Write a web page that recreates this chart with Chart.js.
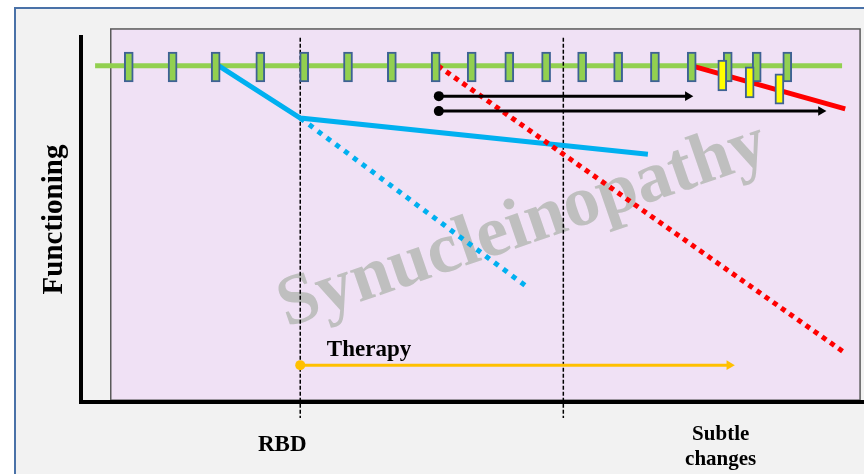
<!DOCTYPE html>
<html>

<head>
  <title>Synucleinopathy</title>
  <script src="https://cdn.jsdelivr.net/npm/chart.js"></script>
  <style>
    body { margin: 0; background: #fff; }
  </style>
</head>

<body>
  <canvas id="myChart" width="864" height="474"></canvas>
  <script>

    // time runs 0-100 left to right, functioning 0-100 bottom to top
    let baselineX = [1.8, 97.2];
    let baselineY = [92.1, 92.1];

    let visitX = [6.1, 11.7, 17.2, 22.9, 28.5, 34.1, 39.7, 45.3, 49.9, 54.7, 59.4, 64.0, 68.6, 73.3, 78.0, 82.6, 86.3, 90.2];
    let visitRange = [87.7, 95.9];

    let abnormalX = [81.9, 85.4, 89.2];
    let abnormalLow = [85.2, 83.3, 81.6];
    let abnormalHigh = [93.7, 91.8, 89.9];

    let declineX = [78.0, 97.6];
    let declineY = [92.1, 80.3];

    let untreatedX = [45.6, 97.4];
    let untreatedY = [92.1, 13.7];

    let treatedX = [17.6, 28.0, 72.4];
    let treatedY = [92.1, 77.8, 67.9];

    let projectedX = [28.0, 57.0];
    let projectedY = [77.8, 31.5];

    let followUpStart = [45.7, 45.7];
    let followUpEnd = [77.5, 94.5];
    let followUpY = [83.8, 79.7];

    let therapyX = [28.0, 82.8];
    let therapyY = 10.1;

    let eventX = [28.0, 61.6];
    let eventSpan = [99.8, -4.4];

    let tickValues = [25.7, 81.7];
    let tickLabels = [['RBD'], ['Subtle', 'changes']];

    const serif = "'Liberation Serif', 'Times New Roman', serif";

    function pts(xs, ys) {
      return xs.map((x, i) => ({ x: x, y: ys[i] }));
    }

    function line(data, color, width, extra) {
      return Object.assign({
        type: 'line',
        data: data,
        borderColor: color,
        backgroundColor: color,
        borderWidth: width,
        pointRadius: 0,
        fill: false,
        tension: 0
      }, extra || {});
    }

    function arrow(xs, y, color, width, order) {
      return line(pts(xs, [y, y]), color, width, {
        order: order,
        pointRadius: [5, 5.5],
        pointStyle: ['circle', 'triangle'],
        pointRotation: [0, 90],
        pointBackgroundColor: color,
        pointBorderColor: color,
        pointBorderWidth: 0
      });
    }

    let markers = visitX.map(x => ({ x: x, y: visitRange.slice() }))
      .concat(abnormalX.map((x, i) => ({ x: x, y: [abnormalLow[i], abnormalHigh[i]] })));
    let markerColors = visitX.map(() => '#92d050').concat(abnormalX.map(() => '#ffff00'));

    let datasets = [
      {
        type: 'bar',
        data: markers,
        backgroundColor: markerColors,
        borderColor: '#3e6294',
        borderWidth: 2,
        borderSkipped: false,
        barThickness: 9,
        order: 1
      },
      arrow([followUpStart[0], followUpEnd[0]], followUpY[0], '#000000', 3, 2),
      arrow([followUpStart[1], followUpEnd[1]], followUpY[1], '#000000', 3, 2),
      arrow(therapyX, therapyY, '#ffc000', 3, 2),
      line(pts(declineX, declineY), '#ff0000', 5, { order: 3 }),
      line(pts(untreatedX, untreatedY), '#ff0000', 5, { order: 4, borderDash: [5, 5] }),
      line(pts(treatedX, treatedY), '#00b0f0', 5, { order: 5 }),
      line(pts(projectedX, projectedY), '#00b0f0', 5, { order: 6, borderDash: [5, 6] }),
      line(pts([eventX[0], eventX[0]], eventSpan), '#000000', 1.5, { order: 7, borderDash: [4, 2], clip: false }),
      line(pts([eventX[1], eventX[1]], eventSpan), '#000000', 1.5, { order: 7, borderDash: [4, 2], clip: false }),
      line(pts(baselineX, baselineY), '#92d050', 5, { order: 8 })
    ];

    const backdrop = {
      id: 'backdrop',
      beforeDraw(chart) {
        const { ctx, width, height, scales: { x, y } } = chart;
        ctx.save();
        ctx.fillStyle = '#ffffff';
        ctx.fillRect(0, 0, width, height);
        ctx.fillStyle = '#f2f2f2';
        ctx.fillRect(15, 8, width, height);
        ctx.strokeStyle = '#4a72a8';
        ctx.lineWidth = 2;
        ctx.strokeRect(15, 8, width, height);

        // lilac panel behind the curves
        let l = x.getPixelForValue(3.8), r = x.getPixelForValue(99.5);
        let t = y.getPixelForValue(102.2), b = y.getPixelForValue(0.5);
        ctx.fillStyle = '#f0e1f5';
        ctx.fillRect(l, t, r - l, b - t);
        ctx.strokeStyle = '#5a5a5a';
        ctx.lineWidth = 1.5;
        ctx.strokeRect(l, t, r - l, b - t);

        // watermark
        ctx.translate(x.getPixelForValue(57.2), y.getPixelForValue(43.3));
        ctx.rotate(-19 * Math.PI / 180);
        ctx.font = 'bold 72px ' + serif;
        ctx.fillStyle = '#bfbfbf';
        ctx.textAlign = 'center';
        ctx.textBaseline = 'alphabetic';
        ctx.fillText('Synucleinopathy', 0, 0);
        ctx.restore();
      },
      afterDraw(chart) {
        const { ctx, chartArea, scales: { x, y } } = chart;
        ctx.save();
        ctx.fillStyle = '#000000';
        ctx.textBaseline = 'alphabetic';
        ctx.textAlign = 'center';
        ctx.font = 'bold 23px ' + serif;
        ctx.fillText(tickLabels[0][0], x.getPixelForValue(tickValues[0]), chartArea.bottom + 49);
        ctx.font = 'bold 21px ' + serif;
        ctx.fillText(tickLabels[1][0], x.getPixelForValue(tickValues[1]), chartArea.bottom + 38);
        ctx.fillText(tickLabels[1][1], x.getPixelForValue(tickValues[1]), chartArea.bottom + 63);
        ctx.textAlign = 'left';
        ctx.font = 'bold 23px ' + serif;
        ctx.fillText('Therapy', x.getPixelForValue(31.4), y.getPixelForValue(12.6));
        ctx.restore();
      }
    };

    let ctx = document.getElementById('myChart').getContext('2d');
    let myChart = new Chart(ctx, {
      type: 'line',
      data: { datasets: datasets },
      options: {
        responsive: false,
        animation: false,
        events: [],
        layout: { autoPadding: false, padding: { left: 20, top: 37, right: 0, bottom: 72 } },
        plugins: {
          legend: { display: false },
          tooltip: { enabled: false }
        },
        scales: {
          x: {
            type: 'linear',
            min: 0,
            max: 100,
            offset: false,
            grid: { display: false, drawTicks: false },
            ticks: { display: false },
            border: { color: '#000000', width: 4 }
          },
          y: {
            type: 'linear',
            min: 0,
            max: 100,
            grid: { display: false, drawTicks: false },
            ticks: { display: false },
            border: { color: '#000000', width: 4 },
            title: {
              display: true,
              text: 'Functioning',
              color: '#000000',
              font: { family: serif, size: 29, weight: 'bold' },
              padding: { top: 17, bottom: 9.2 }
            }
          }
        }
      },
      plugins: [backdrop]
    });

  </script>
</body>

</html>
